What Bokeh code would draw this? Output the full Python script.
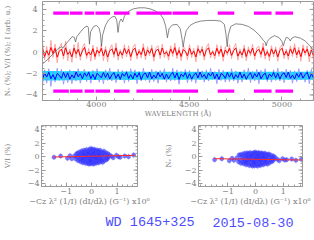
import numpy as np
from bokeh.plotting import figure
from bokeh.models import FixedTicker, Range1d
from bokeh.core.properties import value
from bokeh.layouts import column, row
from bokeh.embed import file_html
from bokeh.resources import INLINE

# ---------------- data ----------------
# Intensity spectrum (arbitrary units, scaled)
wl_I = [3710,3740,3770,3795,3812,3820,3828,3850,3870,3881,3888,3895,3915,3935,3950,3957,3963,3969,3985,4000,
        4015,4022,4028,4034,4048,4065,4085,4100,4110,4117,4124,4133,4142,4152,4175,4200,4230,4260,4290,4320,
        4345,4362,4374,4383,4392,4410,4435,4452,4462,4468,4474,4484,4505,4530,4560,4600,4640,4670,4690,4699,
        4705,4711,4724,4750,4785,4820,4850,4878,4900,4909,4915,4921,4935,4960,4985,5000,5008,5014,5024,5036,
        5045,5052,5070,5100,5125,5150,5170]
I_vals = [-1.1,-0.65,-0.1,0.35,0.5,0.38,0.6,1.05,1.45,1.4,0.95,1.45,1.9,2.3,2.45,2.3,0.75,1.9,2.4,2.5,
          2.25,1.7,0.55,1.6,2.45,3.0,3.3,3.35,3.0,1.85,2.8,3.1,2.85,3.4,3.85,4.05,4.15,4.15,4.05,3.85,
          3.55,3.1,2.4,1.35,2.2,2.55,2.6,2.2,1.2,0.5,1.2,2.0,2.5,2.75,2.9,2.97,2.97,2.9,2.6,1.6,
          0.5,1.6,2.4,2.65,2.6,2.4,2.05,1.6,1.1,0.95,0.6,1.0,1.3,1.55,1.35,1.0,0.6,1.0,1.4,1.3,
          1.05,1.3,1.45,1.3,1.05,0.6,0.15]

# spectrum pixel grid for polarisation spectra
WL_START, WL_END = 3710, 5170

# V/I (%) - binned (red) and unbinned (pink)
vi = [0.32,-0.41,0.15,-0.28,0.44,-0.12,0.36,-0.47,0.08,0.29,-0.35,0.41,-0.22,0.05,-0.44,0.38,-0.16,0.27,-0.39,0.12,
      0.45,-0.3,0.02,-0.25,0.33,-0.41,0.19,-0.08,0.36,-0.33,0.24,-0.46,0.1,0.31,-0.2,0.4,-0.37,0.06,-0.28,0.35,
      -0.14,0.26,-0.42,0.17,0.38,-0.31,0.09,-0.23,0.42,-0.36,0.21,-0.1,0.34,-0.44,0.13,0.28,-0.27,0.39,-0.18,0.03,
      -0.38,0.3,-0.12,0.43,-0.29,0.16,-0.4,0.25,0.07,-0.34,0.37,-0.21,0.11,-0.45,0.32,-0.06,0.27,-0.39,0.18,0.41,
      -0.24,0.04,-0.33,0.36,-0.15,0.29,-0.43,0.2,-0.09,0.35,-0.3,0.14,0.4,-0.37,0.08,-0.26,0.33,-0.41,0.22,-0.11,
      0.38,-0.35,0.12,0.26,-0.2,0.43,-0.32,0.05,-0.4,0.31,-0.17,0.24,-0.44,0.15,0.37,-0.28,0.09,-0.36,0.3,-0.13,
      0.41,-0.25,0.18,-0.42,0.34,-0.07,0.28,-0.38,0.2,-0.3]
vi_raw = [0.95,-0.7,0.55,-0.9,1.1,-0.5,0.75,-1.0,0.4,0.85,-0.65,1.05,-0.8,0.3,-0.95,0.7,-0.55,0.9,-0.75,0.45,
          0.8,-0.6,0.35,-0.85,0.65,-0.7,0.5,-0.4,0.75,-0.8,0.55,-0.9,0.3,0.7,-0.5,0.85,-0.75,0.25,-0.6,0.7,
          -0.45,0.6,-0.8,0.4,0.75,-0.65,0.3,-0.55,0.8,-0.7,0.5,-0.35,0.65,-0.85,0.4,0.6,-0.6,0.75,-0.5,0.2,
          -0.75,0.6,-0.4,0.85,-0.6,0.45,-0.8,0.55,0.25,-0.7,0.7,-0.5,0.35,-0.9,0.65,-0.3,0.55,-0.75,0.45,0.8,
          -0.55,0.2,-0.65,0.7,-0.4,0.6,-0.85,0.5,-0.3,0.7,-0.6,0.4,0.8,-0.75,0.3,-0.55,0.65,-0.8,0.5,-0.35,
          0.75,-0.7,0.4,0.55,-0.5,0.85,-0.65,0.25,-0.8,0.6,-0.45,0.5,-0.85,0.4,0.7,-0.6,0.3,-0.7,0.6,-0.4,
          0.8,-0.55,0.45,-0.85,0.7,-0.3,0.6,-0.9,0.5,-0.75]

# Null profile N_V (%) (plotted shifted)
NV_SHIFT = -2.2
nv = [-0.3,0.25,-0.12,0.33,-0.28,0.1,-0.36,0.2,0.04,-0.25,0.31,-0.18,0.27,-0.33,0.08,-0.22,0.35,-0.1,0.19,-0.3,
      0.26,-0.06,0.32,-0.27,0.13,-0.35,0.22,0.02,-0.2,0.3,-0.16,0.24,-0.32,0.07,0.29,-0.24,0.15,-0.34,0.2,-0.05,
      0.33,-0.26,0.1,-0.31,0.23,-0.14,0.28,-0.36,0.12,0.25,-0.19,0.34,-0.29,0.06,-0.23,0.3,-0.11,0.21,-0.33,0.16,
      -0.27,0.09,0.31,-0.2,0.26,-0.35,0.14,-0.08,0.29,-0.25,0.18,-0.32,0.05,0.27,-0.21,0.33,-0.15,0.11,-0.3,0.24,
      -0.04,0.32,-0.28,0.17,-0.36,0.2,0.08,-0.24,0.3,-0.13,0.26,-0.31,0.1,-0.19,0.35,-0.22,0.15,-0.33,0.04,0.28,
      -0.26,0.19,-0.12,0.31,-0.29,0.07,0.24,-0.34,0.16,-0.09,0.3,-0.2,0.22,-0.32,0.12,0.27,-0.17,0.33,-0.25,0.06,
      -0.3,0.21,-0.14,0.29,-0.23,0.1,0.32,-0.28,0.18,-0.2]
nv_raw = [-0.9,0.55,-0.7,0.65,-1.0,0.4,-0.6,0.7,-0.45,0.6,-0.8,0.35,-0.65,0.55,-0.75,0.45,-0.5,0.65,-0.7,0.3,
          0.6,-0.55,0.4,-0.7,0.5,-0.35,0.65,-0.6,0.25,-0.75,0.55,-0.45,0.7,-0.5,0.35,-0.65,0.6,-0.4,0.5,-0.7,
          0.45,-0.55,0.65,-0.3,0.55,-0.75,0.4,-0.5,0.7,-0.45,0.3,-0.65,0.6,-0.55,0.45,-0.7,0.5,-0.35,0.65,-0.6,
          0.35,-0.5,0.7,-0.45,0.55,-0.8,0.4,-0.3,0.6,-0.65,0.5,-0.55,0.3,-0.7,0.65,-0.4,0.45,-0.6,0.55,-0.5,
          0.7,-0.35,0.4,-0.75,0.6,-0.45,0.5,-0.6,0.35,-0.55,0.65,-0.5,0.45,-0.7,0.3,-0.6,0.55,-0.4,0.7,-0.65,
          0.4,-0.5,0.6,-0.75,0.5,-0.35,0.65,-0.55,0.3,-0.6,0.55,-0.45,0.7,-0.5,0.4,-0.65,0.6,-0.35,0.5,-0.7,
          0.45,-0.55,0.65,-0.4,0.35,-0.6,0.5,-0.75,0.6,-0.45]
# N_V error (%)
nv_sig = [0.45,0.44,0.42,0.43,0.4,0.41,0.39,0.38,0.4,0.37,0.38,0.36,0.37,0.38,0.36,0.37,0.35,0.36,0.37,0.36,
          0.38,0.37,0.36,0.38,0.37,0.39]

# spectral regions used for the field determination
SEG_LEVEL = 3.65
seg_start = [3768,3858,3937,3995,4095,4216,4411,4654,4849,4965]
seg_end   = [3852,3926,3989,4074,4179,4406,4548,4743,4944,5060]

# regression data: x = -Cz lambda^2 (1/I)(dI/dlambda) (x10^6 G^-1)
sx = [-0.68,-0.62,-0.6,-0.57,-0.55,-0.53,-0.5,-0.48,-0.47,-0.45,
      -0.43,-0.42,-0.4,-0.39,-0.37,-0.36,-0.34,-0.33,-0.31,-0.3,
      -0.29,-0.27,-0.26,-0.25,-0.23,-0.22,-0.21,-0.2,-0.18,-0.17,
      -0.16,-0.15,-0.13,-0.12,-0.11,-0.1,-0.09,-0.08,-0.07,-0.06,
      -0.05,-0.04,-0.03,-0.02,-0.01,0.0,0.01,0.02,0.03,0.04,
      0.05,0.06,0.07,0.08,0.09,0.1,0.11,0.12,0.13,0.14,
      0.15,0.16,0.17,0.18,0.2,0.21,0.22,0.23,0.25,0.26,
      0.27,0.29,0.3,0.31,0.33,0.34,0.36,0.37,0.39,0.4,
      0.42,0.43,0.45,0.47,0.48,0.5,0.52,0.54,0.56,0.58,
      0.6,0.62,0.64,0.66,0.7,-0.02,0.05,-0.1,0.12,-0.2,
      0.24,-0.3,0.35,0.0,0.08,-0.05,0.18,-0.15,0.28,-0.35,
      -1.48,-1.22,-0.95,-0.85,-0.78,0.78,0.85,0.97,1.05,1.12,1.3,1.45,1.65]
vi_reg = [0.1,-0.35,0.4,-0.1,0.55,-0.6,0.2,-0.45,0.7,0.0,
          -0.75,0.45,-0.25,0.85,-0.55,0.3,-0.9,0.6,-0.15,0.95,
          -0.7,0.15,-0.4,0.75,-1.0,0.4,-0.2,1.05,-0.6,0.55,
          -0.95,0.2,0.9,-0.35,-1.1,0.65,0.05,-0.75,1.15,-0.45,
          0.35,-1.05,0.8,-0.2,1.2,-0.6,0.5,-0.95,0.1,1.0,
          -0.35,0.7,-1.1,0.3,-0.65,1.1,-0.1,0.55,-0.85,0.9,
          -0.4,0.2,-1.0,0.75,-0.2,1.0,-0.7,0.4,-0.5,0.85,
          -0.9,0.1,0.6,-0.3,0.95,-0.75,0.35,-0.05,0.7,-0.55,
          0.2,-0.85,0.55,-0.25,0.8,-0.6,0.3,-0.15,0.6,-0.45,
          0.15,-0.3,0.45,-0.1,0.25,0.3,-0.05,-0.3,0.15,0.0,
          0.05,0.35,-0.4,0.0,0.6,-0.6,-0.25,0.5,0.35,-0.3,
          -0.1,0.1,-0.25,0.15,-0.3,0.05,-0.15,0.2,0.0,-0.1,0.1,0.0,0.25]
nv_reg = [-0.2,-0.75,0.25,-0.5,0.3,-1.0,-0.1,-0.8,0.4,-0.35,
          -1.05,0.15,-0.6,0.5,-0.9,0.0,-1.2,0.35,-0.45,0.55,
          -1.0,-0.15,-0.7,0.45,-1.3,0.1,-0.5,0.6,-0.95,0.2,
          -1.25,-0.1,0.5,-0.65,-1.4,0.3,-0.3,-1.05,0.6,-0.75,
          0.0,-1.35,0.45,-0.5,0.65,-0.9,0.15,-1.25,-0.2,0.55,
          -0.65,0.35,-1.4,-0.05,-0.95,0.6,-0.4,0.2,-1.15,0.5,
          -0.7,-0.15,-1.3,0.4,-0.55,0.55,-1.0,0.05,-0.8,0.45,
          -1.2,-0.2,0.3,-0.6,0.5,-1.05,0.0,-0.35,0.35,-0.85,
          -0.1,-1.1,0.25,-0.55,0.4,-0.9,-0.05,-0.45,0.2,-0.75,
          -0.15,-0.6,0.1,-0.4,-0.1,-0.25,-0.3,-0.6,-0.1,-0.35,
          -0.25,0.0,-0.65,-0.3,0.2,-0.9,-0.55,0.15,0.0,-0.7,
          -0.45,-0.3,-0.6,-0.25,-0.55,-0.4,-0.6,-0.3,-0.5,-0.45,-0.35,-0.55,-0.4]
REG_SIG = 0.45
fit_x = [-1.5, 1.7]
fit_vi = [-0.05, 0.2]
fit_nv = [-0.3, -0.5]

captions = ["WD 1645+325", "2015-08-30"]

# tick positions
top_xmajor = [4000, 4500, 5000]
top_xminor = list(range(3800, 5200, 100))
ymajor = [-4, -2, 0, 2, 4]
yminor = [v / 2 for v in range(-9, 10)]
reg_xmajor = [-1, 0, 1]
reg_xminor = [v / 5 for v in range(-10, 10)]

# ---------------- style ----------------
FRAME = "#9a9a9a"
TXT = "#808080"
SERIF = "DejaVu Serif"


def style_axis(ax, size="8px", standoff=2, lab_size="7px", lab_standoff=2):
    ax.axis_line_color = FRAME
    ax.major_tick_in = 4
    ax.major_tick_out = 0
    ax.minor_tick_in = 2
    ax.minor_tick_out = 0
    ax.major_tick_line_color = FRAME
    ax.minor_tick_line_color = FRAME
    ax.major_label_text_font = SERIF
    ax.major_label_text_font_size = size
    ax.major_label_text_color = TXT
    ax.major_label_standoff = standoff
    ax.axis_label_text_font = SERIF
    ax.axis_label_text_font_size = lab_size
    ax.axis_label_text_font_style = "normal"
    ax.axis_label_text_color = TXT
    ax.axis_label_standoff = lab_standoff


def mirror_ticks(p, xmaj, xmin, ymaj, ymin):
    # inward ticks on the top and right frame edges (markers clipped by the frame)
    xtop = p.y_range.end
    yright = p.x_range.end
    p.scatter(xmaj, [xtop] * len(xmaj), marker="dash", angle=np.pi / 2, size=8,
              line_color=FRAME, line_width=1)
    p.scatter(xmin, [xtop] * len(xmin), marker="dash", angle=np.pi / 2, size=4,
              line_color=FRAME, line_width=1)
    p.scatter([yright] * len(ymaj), ymaj, marker="dash", size=8, line_color=FRAME, line_width=1)
    p.scatter([yright] * len(ymin), ymin, marker="dash", size=4, line_color=FRAME, line_width=1)


def base(p):
    p.xgrid.visible = False
    p.ygrid.visible = False
    p.outline_line_color = FRAME
    p.background_fill_color = "white"
    p.border_fill_color = "white"


# ---------------- top panel ----------------
top = figure(width=314, height=120, x_range=Range1d(WL_START, WL_END), y_range=Range1d(-4.52, 4.74),
             output_backend="svg", toolbar_location=None,
             min_border_left=36, min_border_right=1, min_border_top=1, min_border_bottom=20)
base(top)
top.xaxis.ticker = FixedTicker(ticks=top_xmajor, minor_ticks=top_xminor)
top.yaxis.ticker = FixedTicker(ticks=ymajor, minor_ticks=yminor)
style_axis(top.xaxis[0], standoff=1, lab_standoff=0)
style_axis(top.yaxis[0], standoff=5, lab_standoff=11)
top.xaxis.axis_label = "WAVELENGTH (Å)"
top.yaxis.axis_label = "Nᵥ (%); V/I (%); I (arb. u.)"

wl_pol = np.linspace(WL_START, WL_END, len(vi))
wl_sig = np.linspace(WL_START, WL_END, len(nv_sig))

top.line(wl_pol, vi_raw, color="#ff9a9a", line_width=0.9)
top.line(wl_pol, vi, color="#ff0000", line_width=1.0)
top.varea(x=wl_sig, y1=[NV_SHIFT - s for s in nv_sig], y2=[NV_SHIFT + s for s in nv_sig], fill_color="#00e8ff")
top.line(wl_pol, [NV_SHIFT + v for v in nv_raw], color="#8c8cff", line_width=0.8)
top.line(wl_pol, [NV_SHIFT + v for v in nv], color="#0000ff", line_width=1.0)
top.line(wl_I, I_vals, color="#555555", line_width=0.7)
for lev in (SEG_LEVEL, -SEG_LEVEL):
    top.segment(x0=seg_start, x1=seg_end, y0=[lev] * len(seg_start), y1=[lev] * len(seg_start),
                color="#ff00ff", line_width=3.3)
mirror_ticks(top, top_xmajor, top_xminor, ymajor, yminor)


# ---------------- regression panels ----------------
def reg_panel(ys, fit_y, ylab, x_rng, mb_left, mb_right, lab_standoff):
    p = figure(width=157, height=90, x_range=Range1d(*x_rng), y_range=Range1d(-4.45, 4.65),
               output_backend="svg", toolbar_location=None,
               min_border_left=mb_left, min_border_right=mb_right, min_border_top=5, min_border_bottom=24)
    base(p)
    p.xaxis.ticker = FixedTicker(ticks=reg_xmajor, minor_ticks=reg_xminor)
    p.yaxis.ticker = FixedTicker(ticks=ymajor, minor_ticks=yminor)
    style_axis(p.xaxis[0], standoff=2, lab_size="8px", lab_standoff=0)
    style_axis(p.yaxis[0], standoff=2, lab_standoff=lab_standoff)
    p.xaxis.axis_label = "−Cz λ² (1/I) (dI/dλ) (G⁻¹) x10⁶"
    p.yaxis.axis_label = ylab
    p.segment(x0=sx, x1=sx, y0=[y - REG_SIG for y in ys], y1=[y + REG_SIG for y in ys],
              color="#7a7aff", alpha=0.5, line_width=0.7)
    p.scatter(sx, ys, marker="circle", size=4, fill_color="#2f2fff", fill_alpha=0.6,
              line_color="#4a4aff", line_alpha=0.75, line_width=0.6)
    p.line(fit_x, fit_y, color="#ff2a2a", line_width=1)
    mirror_ticks(p, reg_xmajor, reg_xminor, ymajor, yminor)
    return p


bl = reg_panel(vi_reg, fit_vi, "V/I (%)", (-1.97, 1.8), 35, 20, 13)
br = reg_panel(nv_reg, fit_nv, "Nᵥ (%)", (-2.06, 1.69), 41, 12, 9)

# ---------------- star / date captions (pixel-scaled blank canvas) ----------------
cap = figure(width=314, height=30, x_range=Range1d(0, 314), y_range=Range1d(0, 30),
             output_backend="svg", toolbar_location=None,
             x_axis_location=None, y_axis_location=None,
             min_border_left=0, min_border_right=0, min_border_top=0, min_border_bottom=0)
cap.xgrid.visible = False
cap.ygrid.visible = False
cap.outline_line_color = None
cap.text(x=[73, 197], y=[18, 18], text=captions, text_align="left", text_baseline="middle",
         text_font=value("Liberation Mono"), text_font_size="13.5px", text_color="#4d4dff")

layout = column(top, row(bl, br), cap)
html = file_html(layout, INLINE)
html = html.replace("<head>", "<head><style>html,body{margin:0;padding:0;}</style>", 1)
open("out.html", "w").write(html)
